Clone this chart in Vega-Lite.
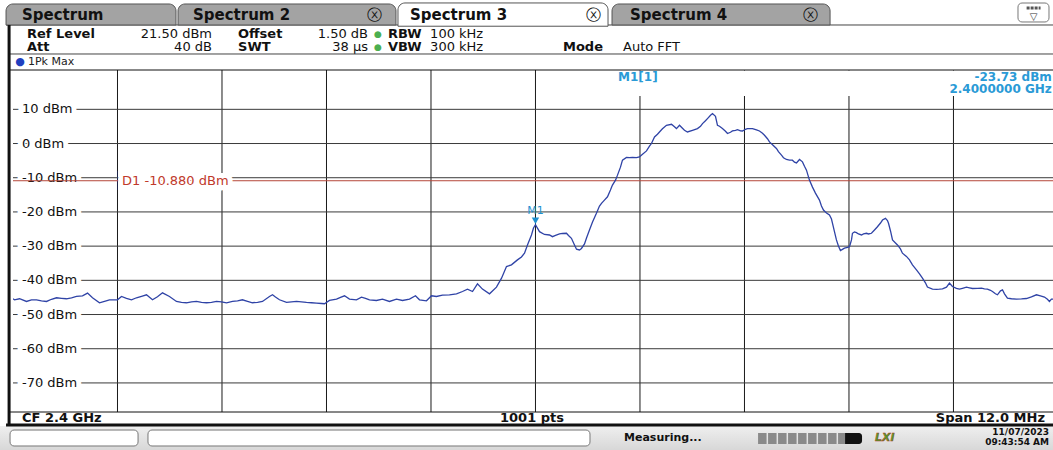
{
  "$schema": "https://vega.github.io/schema/vega-lite/v6.json",
  "width": 1040,
  "height": 342,
  "autosize": {"type": "none"},
  "padding": {"left": 13, "top": 70, "right": 0, "bottom": 38},
  "background": "white",
  "config": {
    "view": {"stroke": null},
    "axis": {"disable": true},
    "text": {"font": "DejaVu Sans"}
  },
  "data": {"values": [{}]},
  "datasets": {
    "levels": [
      {"dBm": 10, "label": "10 dBm"},
      {"dBm": 0, "label": "0 dBm"},
      {"dBm": -10, "label": "-10 dBm"},
      {"dBm": -20, "label": "-20 dBm"},
      {"dBm": -30, "label": "-30 dBm"},
      {"dBm": -40, "label": "-40 dBm"},
      {"dBm": -50, "label": "-50 dBm"},
      {"dBm": -60, "label": "-60 dBm"},
      {"dBm": -70, "label": "-70 dBm"}
    ],
    "vgrid": [
      {"freq": 2395.2}, {"freq": 2396.4}, {"freq": 2397.6}, {"freq": 2398.8}, {"freq": 2400.0},
      {"freq": 2401.2}, {"freq": 2402.4}, {"freq": 2403.6}, {"freq": 2404.8}
    ],
    "trace": [
      {"freq": 2394.000, "dBm": -45.40}, {"freq": 2394.017, "dBm": -45.69}, {"freq": 2394.075, "dBm": -45.39},
      {"freq": 2394.155, "dBm": -46.18}, {"freq": 2394.212, "dBm": -45.69}, {"freq": 2394.270, "dBm": -45.69},
      {"freq": 2394.327, "dBm": -45.98}, {"freq": 2394.385, "dBm": -46.18}, {"freq": 2394.442, "dBm": -45.54},
      {"freq": 2394.500, "dBm": -45.10}, {"freq": 2394.557, "dBm": -45.25}, {"freq": 2394.614, "dBm": -45.39},
      {"freq": 2394.672, "dBm": -45.10}, {"freq": 2394.729, "dBm": -44.72}, {"freq": 2394.798, "dBm": -44.52},
      {"freq": 2394.856, "dBm": -43.73}, {"freq": 2394.913, "dBm": -45.10}, {"freq": 2394.993, "dBm": -46.56},
      {"freq": 2395.051, "dBm": -46.12}, {"freq": 2395.108, "dBm": -45.69}, {"freq": 2395.200, "dBm": -45.69},
      {"freq": 2395.246, "dBm": -44.72}, {"freq": 2395.303, "dBm": -45.25}, {"freq": 2395.361, "dBm": -45.69},
      {"freq": 2395.418, "dBm": -45.10}, {"freq": 2395.476, "dBm": -44.67}, {"freq": 2395.533, "dBm": -44.23},
      {"freq": 2395.602, "dBm": -45.69}, {"freq": 2395.659, "dBm": -44.81}, {"freq": 2395.717, "dBm": -43.65},
      {"freq": 2395.797, "dBm": -44.72}, {"freq": 2395.877, "dBm": -46.18}, {"freq": 2395.935, "dBm": -46.42},
      {"freq": 2395.992, "dBm": -46.56}, {"freq": 2396.050, "dBm": -46.27}, {"freq": 2396.107, "dBm": -46.18},
      {"freq": 2396.165, "dBm": -46.42}, {"freq": 2396.222, "dBm": -46.56}, {"freq": 2396.279, "dBm": -46.42},
      {"freq": 2396.337, "dBm": -46.18}, {"freq": 2396.394, "dBm": -46.27}, {"freq": 2396.452, "dBm": -46.56},
      {"freq": 2396.521, "dBm": -46.18}, {"freq": 2396.578, "dBm": -45.98}, {"freq": 2396.635, "dBm": -45.69},
      {"freq": 2396.693, "dBm": -46.12}, {"freq": 2396.750, "dBm": -46.56}, {"freq": 2396.808, "dBm": -46.42},
      {"freq": 2396.865, "dBm": -46.18}, {"freq": 2396.945, "dBm": -44.72}, {"freq": 2396.980, "dBm": -44.23},
      {"freq": 2397.014, "dBm": -44.90}, {"freq": 2397.060, "dBm": -45.69}, {"freq": 2397.141, "dBm": -46.47},
      {"freq": 2397.198, "dBm": -46.27}, {"freq": 2397.256, "dBm": -46.18}, {"freq": 2397.313, "dBm": -46.27},
      {"freq": 2397.370, "dBm": -46.47}, {"freq": 2397.428, "dBm": -46.56}, {"freq": 2397.485, "dBm": -46.65},
      {"freq": 2397.543, "dBm": -46.77}, {"freq": 2397.577, "dBm": -46.85}, {"freq": 2397.634, "dBm": -45.89},
      {"freq": 2397.715, "dBm": -45.48}, {"freq": 2397.761, "dBm": -44.96}, {"freq": 2397.807, "dBm": -44.52},
      {"freq": 2397.864, "dBm": -45.48}, {"freq": 2397.944, "dBm": -45.69}, {"freq": 2398.002, "dBm": -44.90},
      {"freq": 2398.048, "dBm": -45.25}, {"freq": 2398.094, "dBm": -45.69}, {"freq": 2398.174, "dBm": -45.89},
      {"freq": 2398.243, "dBm": -45.48}, {"freq": 2398.323, "dBm": -46.18}, {"freq": 2398.404, "dBm": -45.48},
      {"freq": 2398.473, "dBm": -45.89}, {"freq": 2398.553, "dBm": -45.48}, {"freq": 2398.622, "dBm": -44.52},
      {"freq": 2398.668, "dBm": -45.69}, {"freq": 2398.748, "dBm": -45.98}, {"freq": 2398.806, "dBm": -44.52},
      {"freq": 2398.863, "dBm": -44.72}, {"freq": 2398.932, "dBm": -44.32}, {"freq": 2399.012, "dBm": -44.23},
      {"freq": 2399.093, "dBm": -43.94}, {"freq": 2399.162, "dBm": -43.27}, {"freq": 2399.219, "dBm": -42.57},
      {"freq": 2399.277, "dBm": -43.27}, {"freq": 2399.334, "dBm": -41.02}, {"freq": 2399.391, "dBm": -42.57},
      {"freq": 2399.472, "dBm": -43.94}, {"freq": 2399.552, "dBm": -41.98}, {"freq": 2399.610, "dBm": -39.36},
      {"freq": 2399.667, "dBm": -35.98}, {"freq": 2399.724, "dBm": -35.48}, {"freq": 2399.793, "dBm": -34.02},
      {"freq": 2399.839, "dBm": -33.15}, {"freq": 2399.874, "dBm": -32.07}, {"freq": 2399.908, "dBm": -29.65},
      {"freq": 2399.954, "dBm": -26.74}, {"freq": 2399.977, "dBm": -24.69}, {"freq": 2400.000, "dBm": -23.73},
      {"freq": 2400.046, "dBm": -25.77}, {"freq": 2400.103, "dBm": -26.59}, {"freq": 2400.161, "dBm": -26.74},
      {"freq": 2400.195, "dBm": -27.23}, {"freq": 2400.230, "dBm": -26.88}, {"freq": 2400.276, "dBm": -26.44},
      {"freq": 2400.310, "dBm": -26.30}, {"freq": 2400.356, "dBm": -26.24}, {"freq": 2400.379, "dBm": -26.88},
      {"freq": 2400.413, "dBm": -27.70}, {"freq": 2400.448, "dBm": -29.65}, {"freq": 2400.471, "dBm": -30.90},
      {"freq": 2400.505, "dBm": -31.11}, {"freq": 2400.528, "dBm": -30.67}, {"freq": 2400.563, "dBm": -29.36},
      {"freq": 2400.586, "dBm": -27.61}, {"freq": 2400.620, "dBm": -25.28}, {"freq": 2400.655, "dBm": -22.95},
      {"freq": 2400.700, "dBm": -20.41}, {"freq": 2400.735, "dBm": -18.28}, {"freq": 2400.758, "dBm": -17.49},
      {"freq": 2400.792, "dBm": -16.53}, {"freq": 2400.827, "dBm": -15.57}, {"freq": 2400.861, "dBm": -13.62},
      {"freq": 2400.884, "dBm": -12.16}, {"freq": 2400.919, "dBm": -10.70}, {"freq": 2400.942, "dBm": -9.24},
      {"freq": 2400.976, "dBm": -6.91}, {"freq": 2400.999, "dBm": -4.87}, {"freq": 2401.045, "dBm": -4.08},
      {"freq": 2401.079, "dBm": -4.14}, {"freq": 2401.114, "dBm": -4.08}, {"freq": 2401.160, "dBm": -4.14},
      {"freq": 2401.194, "dBm": -3.91}, {"freq": 2401.229, "dBm": -3.12}, {"freq": 2401.275, "dBm": -2.16},
      {"freq": 2401.309, "dBm": -0.79}, {"freq": 2401.332, "dBm": 0.00}, {"freq": 2401.367, "dBm": 1.92},
      {"freq": 2401.401, "dBm": 2.71}, {"freq": 2401.424, "dBm": 3.38}, {"freq": 2401.458, "dBm": 4.31},
      {"freq": 2401.504, "dBm": 5.34}, {"freq": 2401.562, "dBm": 5.63}, {"freq": 2401.596, "dBm": 4.90},
      {"freq": 2401.619, "dBm": 4.37}, {"freq": 2401.654, "dBm": 5.34}, {"freq": 2401.688, "dBm": 4.46},
      {"freq": 2401.711, "dBm": 3.88}, {"freq": 2401.745, "dBm": 3.38}, {"freq": 2401.803, "dBm": 3.88},
      {"freq": 2401.860, "dBm": 4.37}, {"freq": 2401.895, "dBm": 5.04}, {"freq": 2401.918, "dBm": 5.83},
      {"freq": 2401.952, "dBm": 6.65}, {"freq": 2401.975, "dBm": 7.29}, {"freq": 2402.010, "dBm": 8.25},
      {"freq": 2402.033, "dBm": 8.75}, {"freq": 2402.067, "dBm": 7.96}, {"freq": 2402.090, "dBm": 5.34},
      {"freq": 2402.113, "dBm": 5.04}, {"freq": 2402.147, "dBm": 4.37}, {"freq": 2402.182, "dBm": 3.59},
      {"freq": 2402.205, "dBm": 2.92}, {"freq": 2402.239, "dBm": 3.29}, {"freq": 2402.262, "dBm": 3.67},
      {"freq": 2402.297, "dBm": 3.88}, {"freq": 2402.320, "dBm": 4.08}, {"freq": 2402.354, "dBm": 3.73},
      {"freq": 2402.377, "dBm": 3.67}, {"freq": 2402.411, "dBm": 4.17}, {"freq": 2402.434, "dBm": 4.37},
      {"freq": 2402.492, "dBm": 4.37}, {"freq": 2402.538, "dBm": 4.02}, {"freq": 2402.572, "dBm": 3.67},
      {"freq": 2402.607, "dBm": 3.00}, {"freq": 2402.630, "dBm": 2.42}, {"freq": 2402.664, "dBm": 1.40},
      {"freq": 2402.687, "dBm": 0.47}, {"freq": 2402.722, "dBm": -0.35}, {"freq": 2402.767, "dBm": -1.46},
      {"freq": 2402.790, "dBm": -2.39}, {"freq": 2402.825, "dBm": -3.41}, {"freq": 2402.848, "dBm": -4.14},
      {"freq": 2402.882, "dBm": -4.66}, {"freq": 2402.917, "dBm": -4.87}, {"freq": 2402.951, "dBm": -4.87},
      {"freq": 2402.974, "dBm": -5.45}, {"freq": 2402.997, "dBm": -5.66}, {"freq": 2403.032, "dBm": -4.66},
      {"freq": 2403.066, "dBm": -5.36}, {"freq": 2403.089, "dBm": -6.62}, {"freq": 2403.112, "dBm": -7.78},
      {"freq": 2403.146, "dBm": -10.70}, {"freq": 2403.181, "dBm": -12.74}, {"freq": 2403.215, "dBm": -14.49},
      {"freq": 2403.261, "dBm": -16.53}, {"freq": 2403.284, "dBm": -18.28}, {"freq": 2403.307, "dBm": -19.45},
      {"freq": 2403.342, "dBm": -20.32}, {"freq": 2403.376, "dBm": -20.90}, {"freq": 2403.399, "dBm": -22.07},
      {"freq": 2403.411, "dBm": -23.32}, {"freq": 2403.434, "dBm": -25.86}, {"freq": 2403.456, "dBm": -28.19},
      {"freq": 2403.479, "dBm": -29.94}, {"freq": 2403.502, "dBm": -31.31}, {"freq": 2403.525, "dBm": -30.96},
      {"freq": 2403.548, "dBm": -30.61}, {"freq": 2403.583, "dBm": -30.38}, {"freq": 2403.606, "dBm": -30.15},
      {"freq": 2403.629, "dBm": -28.19}, {"freq": 2403.640, "dBm": -26.24}, {"freq": 2403.663, "dBm": -25.86},
      {"freq": 2403.686, "dBm": -26.06}, {"freq": 2403.709, "dBm": -26.44}, {"freq": 2403.744, "dBm": -26.74},
      {"freq": 2403.767, "dBm": -26.44}, {"freq": 2403.801, "dBm": -26.24}, {"freq": 2403.824, "dBm": -26.44},
      {"freq": 2403.858, "dBm": -26.24}, {"freq": 2403.893, "dBm": -25.28}, {"freq": 2403.927, "dBm": -24.32},
      {"freq": 2403.962, "dBm": -23.24}, {"freq": 2403.985, "dBm": -22.37}, {"freq": 2404.019, "dBm": -21.87},
      {"freq": 2404.042, "dBm": -22.51}, {"freq": 2404.054, "dBm": -23.32}, {"freq": 2404.077, "dBm": -25.57},
      {"freq": 2404.100, "dBm": -28.19}, {"freq": 2404.134, "dBm": -29.07}, {"freq": 2404.157, "dBm": -29.65},
      {"freq": 2404.191, "dBm": -30.82}, {"freq": 2404.214, "dBm": -32.07}, {"freq": 2404.260, "dBm": -33.00},
      {"freq": 2404.295, "dBm": -34.02}, {"freq": 2404.329, "dBm": -35.48}, {"freq": 2404.375, "dBm": -36.94},
      {"freq": 2404.410, "dBm": -38.11}, {"freq": 2404.444, "dBm": -39.36}, {"freq": 2404.478, "dBm": -40.73},
      {"freq": 2404.501, "dBm": -41.98}, {"freq": 2404.559, "dBm": -42.57}, {"freq": 2404.605, "dBm": -42.63},
      {"freq": 2404.639, "dBm": -42.57}, {"freq": 2404.674, "dBm": -42.48}, {"freq": 2404.720, "dBm": -41.98},
      {"freq": 2404.754, "dBm": -40.82}, {"freq": 2404.788, "dBm": -41.81}, {"freq": 2404.834, "dBm": -42.33},
      {"freq": 2404.869, "dBm": -42.57}, {"freq": 2404.903, "dBm": -42.33}, {"freq": 2404.949, "dBm": -41.98},
      {"freq": 2404.984, "dBm": -42.19}, {"freq": 2405.018, "dBm": -42.39}, {"freq": 2405.076, "dBm": -42.33},
      {"freq": 2405.122, "dBm": -42.28}, {"freq": 2405.156, "dBm": -42.48}, {"freq": 2405.190, "dBm": -42.57},
      {"freq": 2405.225, "dBm": -42.92}, {"freq": 2405.248, "dBm": -43.27}, {"freq": 2405.282, "dBm": -43.94},
      {"freq": 2405.305, "dBm": -44.23}, {"freq": 2405.340, "dBm": -43.06}, {"freq": 2405.363, "dBm": -42.77},
      {"freq": 2405.386, "dBm": -43.94}, {"freq": 2405.420, "dBm": -45.19}, {"freq": 2405.466, "dBm": -45.39},
      {"freq": 2405.523, "dBm": -45.48}, {"freq": 2405.581, "dBm": -45.45}, {"freq": 2405.638, "dBm": -45.31},
      {"freq": 2405.695, "dBm": -44.81}, {"freq": 2405.753, "dBm": -44.23}, {"freq": 2405.799, "dBm": -44.52},
      {"freq": 2405.845, "dBm": -44.90}, {"freq": 2405.879, "dBm": -45.54}, {"freq": 2405.902, "dBm": -46.18},
      {"freq": 2405.925, "dBm": -45.48}, {"freq": 2406.000, "dBm": -45.50}
    ]
  },
  "layer": [
    {
      "mark": {"type": "rect", "fill": {"gradient": "linear", "x1": 0, "y1": 0, "x2": 0, "y2": 1, "stops": [{"offset": 0, "color": "#efefef"}, {"offset": 1, "color": "#c2c2c2"}]}},
      "encoding": {
        "x": {"datum": 2393.8, "type": "quantitative"}, "x2": {"datum": 2406.2},
        "y": {"datum": -82.6, "type": "quantitative"}, "y2": {"datum": -96}
      }
    },
    {
      "mark": {"type": "rect", "fill": "white", "stroke": "#777", "strokeWidth": 1, "cornerRadius": 4},
      "encoding": {
        "x": {"datum": 2393.966, "type": "quantitative"}, "x2": {"datum": 2395.436},
        "y": {"datum": -83.77, "type": "quantitative"}, "y2": {"datum": -88.44}
      }
    },
    {
      "mark": {"type": "rect", "fill": "white", "stroke": "#777", "strokeWidth": 1, "cornerRadius": 4},
      "encoding": {
        "x": {"datum": 2395.55, "type": "quantitative"}, "x2": {"datum": 2400.626},
        "y": {"datum": -83.77, "type": "quantitative"}, "y2": {"datum": -88.44}
      }
    },
    {
      "mark": {"type": "rule", "color": "#444", "strokeWidth": 1},
      "encoding": {
        "x": {"datum": 2393.92, "type": "quantitative"}, "x2": {"datum": 2406.2},
        "y": {"datum": 34.66, "type": "quantitative"}
      }
    },
    {
      "mark": {"type": "rect", "fill": "#a3a3a3", "stroke": "#555", "strokeWidth": 1, "cornerRadiusTopLeft": 7, "cornerRadiusTopRight": 7},
      "encoding": {
        "x": {"datum": 2393.92, "type": "quantitative"}, "x2": {"datum": 2395.872},
        "y": {"datum": 34.66, "type": "quantitative"}, "y2": {"datum": 40.8}
      }
    },
    {
      "mark": {"type": "rect", "fill": "#a3a3a3", "stroke": "#555", "strokeWidth": 1, "cornerRadiusTopLeft": 7, "cornerRadiusTopRight": 7},
      "encoding": {
        "x": {"datum": 2395.895, "type": "quantitative"}, "x2": {"datum": 2398.398},
        "y": {"datum": 34.66, "type": "quantitative"}, "y2": {"datum": 40.8}
      }
    },
    {
      "mark": {"type": "rect", "fill": "white", "stroke": "#555", "strokeWidth": 1, "cornerRadiusTopLeft": 7, "cornerRadiusTopRight": 7},
      "encoding": {
        "x": {"datum": 2398.421, "type": "quantitative"}, "x2": {"datum": 2400.833},
        "y": {"datum": 34.3, "type": "quantitative"}, "y2": {"datum": 41.1}
      }
    },
    {
      "mark": {"type": "rect", "fill": "#a3a3a3", "stroke": "#555", "strokeWidth": 1, "cornerRadiusTopLeft": 7, "cornerRadiusTopRight": 7},
      "encoding": {
        "x": {"datum": 2400.879, "type": "quantitative"}, "x2": {"datum": 2403.383},
        "y": {"datum": 34.66, "type": "quantitative"}, "y2": {"datum": 40.8}
      }
    },
    {
      "mark": {"type": "rect", "fill": "white", "stroke": "#777", "strokeWidth": 1, "cornerRadius": 4},
      "encoding": {
        "x": {"datum": 2405.541, "type": "quantitative"}, "x2": {"datum": 2405.897},
        "y": {"datum": 35.54, "type": "quantitative"}, "y2": {"datum": 41.09}
      }
    },
    {
      "mark": {"type": "rule", "color": "#555", "strokeWidth": 3, "strokeDash": [3, 1]},
      "encoding": {
        "x": {"datum": 2405.64, "type": "quantitative"}, "x2": {"datum": 2405.8},
        "y": {"datum": 39.6, "type": "quantitative"}
      }
    },
    {
      "mark": {"type": "text", "text": "▽", "fontSize": 10, "align": "center", "baseline": "middle", "color": "#333"},
      "encoding": {"x": {"datum": 2405.719, "type": "quantitative"}, "y": {"datum": 37.0, "type": "quantitative"}}
    },
    {
      "mark": {"type": "text", "text": "Spectrum", "fontSize": 15, "fontWeight": "bold", "align": "left", "baseline": "middle", "color": "#111"},
      "encoding": {"x": {"datum": 2394.103, "type": "quantitative"}, "y": {"datum": 37.58, "type": "quantitative"}}
    },
    {
      "mark": {"type": "text", "text": "Spectrum 2", "fontSize": 15, "fontWeight": "bold", "align": "left", "baseline": "middle", "color": "#111"},
      "encoding": {"x": {"datum": 2396.067, "type": "quantitative"}, "y": {"datum": 37.58, "type": "quantitative"}}
    },
    {
      "mark": {"type": "text", "text": "Spectrum 3", "fontSize": 15, "fontWeight": "bold", "align": "left", "baseline": "middle", "color": "#111"},
      "encoding": {"x": {"datum": 2398.559, "type": "quantitative"}, "y": {"datum": 37.58, "type": "quantitative"}}
    },
    {
      "mark": {"type": "text", "text": "Spectrum 4", "fontSize": 15, "fontWeight": "bold", "align": "left", "baseline": "middle", "color": "#111"},
      "encoding": {"x": {"datum": 2401.086, "type": "quantitative"}, "y": {"datum": 37.58, "type": "quantitative"}}
    },
    {
      "mark": {"type": "text", "text": "ⓧ", "fontSize": 15, "align": "center", "baseline": "middle", "color": "#111"},
      "encoding": {"x": {"datum": 2398.157, "type": "quantitative"}, "y": {"datum": 37.58, "type": "quantitative"}}
    },
    {
      "mark": {"type": "text", "text": "ⓧ", "fontSize": 15, "align": "center", "baseline": "middle", "color": "#111"},
      "encoding": {"x": {"datum": 2400.672, "type": "quantitative"}, "y": {"datum": 37.58, "type": "quantitative"}}
    },
    {
      "mark": {"type": "text", "text": "ⓧ", "fontSize": 15, "align": "center", "baseline": "middle", "color": "#111"},
      "encoding": {"x": {"datum": 2403.153, "type": "quantitative"}, "y": {"datum": 37.58, "type": "quantitative"}}
    },
    {
      "mark": {"type": "text", "text": ["Ref Level", "Att"], "fontSize": 13, "fontWeight": "bold", "lineHeight": 13.5, "align": "left", "baseline": "middle", "color": "#111"},
      "encoding": {"x": {"datum": 2394.161, "type": "quantitative"}, "y": {"datum": 32.03, "type": "quantitative"}}
    },
    {
      "mark": {"type": "text", "text": ["21.50 dBm", "40 dB"], "fontSize": 13, "lineHeight": 13.5, "align": "right", "baseline": "middle", "color": "#111"},
      "encoding": {"x": {"datum": 2396.285, "type": "quantitative"}, "y": {"datum": 32.03, "type": "quantitative"}}
    },
    {
      "mark": {"type": "text", "text": ["Offset", "SWT"], "fontSize": 13, "fontWeight": "bold", "lineHeight": 13.5, "align": "left", "baseline": "middle", "color": "#111"},
      "encoding": {"x": {"datum": 2396.584, "type": "quantitative"}, "y": {"datum": 32.03, "type": "quantitative"}}
    },
    {
      "mark": {"type": "text", "text": ["1.50 dB", "38 µs"], "fontSize": 13, "lineHeight": 13.5, "align": "right", "baseline": "middle", "color": "#111"},
      "encoding": {"x": {"datum": 2398.077, "type": "quantitative"}, "y": {"datum": 32.03, "type": "quantitative"}}
    },
    {
      "mark": {"type": "text", "text": ["●", "●"], "fontSize": 9, "lineHeight": 13.5, "align": "center", "baseline": "middle", "color": "#4caf50"},
      "encoding": {"x": {"datum": 2398.192, "type": "quantitative"}, "y": {"datum": 32.03, "type": "quantitative"}}
    },
    {
      "mark": {"type": "text", "text": ["RBW", "VBW"], "fontSize": 13, "fontWeight": "bold", "lineHeight": 13.5, "align": "left", "baseline": "middle", "color": "#111"},
      "encoding": {"x": {"datum": 2398.307, "type": "quantitative"}, "y": {"datum": 32.03, "type": "quantitative"}}
    },
    {
      "mark": {"type": "text", "text": ["100 kHz", "300 kHz"], "fontSize": 13, "lineHeight": 13.5, "align": "left", "baseline": "middle", "color": "#111"},
      "encoding": {"x": {"datum": 2398.79, "type": "quantitative"}, "y": {"datum": 32.03, "type": "quantitative"}}
    },
    {
      "mark": {"type": "text", "text": "Mode", "fontSize": 13, "fontWeight": "bold", "align": "left", "baseline": "middle", "color": "#111"},
      "encoding": {"x": {"datum": 2400.316, "type": "quantitative"}, "y": {"datum": 28.08, "type": "quantitative"}}
    },
    {
      "mark": {"type": "text", "text": "Auto FFT", "fontSize": 13, "align": "left", "baseline": "middle", "color": "#111"},
      "encoding": {"x": {"datum": 2401.005, "type": "quantitative"}, "y": {"datum": 28.08, "type": "quantitative"}}
    },
    {
      "mark": {"type": "rule", "color": "#444", "strokeWidth": 1},
      "encoding": {
        "x": {"datum": 2393.966, "type": "quantitative"}, "x2": {"datum": 2406.2},
        "y": {"datum": 26.18, "type": "quantitative"}
      }
    },
    {
      "mark": {"type": "text", "text": "●", "fontSize": 11, "align": "center", "baseline": "middle", "color": "#1f3fbf"},
      "encoding": {"x": {"datum": 2394.08, "type": "quantitative"}, "y": {"datum": 23.84, "type": "quantitative"}}
    },
    {
      "mark": {"type": "text", "text": "1Pk Max", "fontSize": 11, "align": "left", "baseline": "middle", "color": "#222"},
      "encoding": {"x": {"datum": 2394.172, "type": "quantitative"}, "y": {"datum": 23.84, "type": "quantitative"}}
    },
    {
      "data": {"name": "vgrid"},
      "mark": {"type": "rule", "color": "#1a1a1a", "strokeWidth": 1},
      "encoding": {"x": {"field": "freq", "type": "quantitative"}}
    },
    {
      "data": {"name": "levels"},
      "mark": {"type": "rule", "color": "#3a3a3a", "strokeWidth": 1},
      "encoding": {"y": {"field": "dBm", "type": "quantitative"}}
    },
    {
      "mark": {"type": "rect", "fill": "white"},
      "encoding": {
        "x": {"datum": 2400.041, "type": "quantitative"}, "x2": {"datum": 2406.2},
        "y": {"datum": 21.35, "type": "quantitative"}, "y2": {"datum": 13.9}
      }
    },
    {
      "data": {"name": "levels"},
      "mark": {"type": "text", "fontSize": 13, "align": "left", "baseline": "middle", "fill": "white", "stroke": "white", "strokeWidth": 10},
      "encoding": {
        "x": {"datum": 2394.103, "type": "quantitative"},
        "y": {"field": "dBm", "type": "quantitative"},
        "text": {"field": "label"}
      }
    },
    {
      "data": {"name": "levels"},
      "mark": {"type": "text", "fontSize": 13, "align": "left", "baseline": "middle", "color": "#111"},
      "encoding": {
        "x": {"datum": 2394.103, "type": "quantitative"},
        "y": {"field": "dBm", "type": "quantitative"},
        "text": {"field": "label"}
      }
    },
    {
      "mark": {"type": "rule", "color": "#b5473a", "strokeWidth": 1},
      "encoding": {"y": {"datum": -10.88, "type": "quantitative"}}
    },
    {
      "mark": {"type": "text", "text": "D1  -10.880 dBm", "fontSize": 13, "align": "left", "baseline": "middle", "fill": "white", "stroke": "white", "strokeWidth": 10},
      "encoding": {"x": {"datum": 2395.252, "type": "quantitative"}, "y": {"datum": -10.88, "type": "quantitative"}}
    },
    {
      "mark": {"type": "text", "text": "D1  -10.880 dBm", "fontSize": 13, "align": "left", "baseline": "middle", "color": "#c0392b"},
      "encoding": {"x": {"datum": 2395.252, "type": "quantitative"}, "y": {"datum": -10.88, "type": "quantitative"}}
    },
    {
      "data": {"name": "trace"},
      "mark": {"type": "line", "color": "#2f43a6", "strokeWidth": 1.3, "clip": true},
      "encoding": {
        "x": {"field": "freq", "type": "quantitative", "scale": {"domain": [2394, 2405.943], "nice": false, "zero": false}},
        "y": {"field": "dBm", "type": "quantitative", "scale": {"domain": [-78.5, 21.5], "nice": false, "zero": false}}
      }
    },
    {
      "mark": {"type": "point", "shape": "triangle-down", "filled": true, "size": 55, "color": "#1e90d0", "opacity": 1, "yOffset": -4},
      "encoding": {"x": {"datum": 2400.0, "type": "quantitative"}, "y": {"datum": -23.73, "type": "quantitative"}}
    },
    {
      "mark": {"type": "text", "text": "M1", "fontSize": 11, "align": "center", "baseline": "middle", "color": "#1e90d0", "dy": -14},
      "encoding": {"x": {"datum": 2400.0, "type": "quantitative"}, "y": {"datum": -23.73, "type": "quantitative"}}
    },
    {
      "mark": {"type": "text", "text": "M1[1]", "fontSize": 12, "fontWeight": "bold", "align": "left", "baseline": "middle", "color": "#2a9ad6"},
      "encoding": {"x": {"datum": 2400.948, "type": "quantitative"}, "y": {"datum": 19.45, "type": "quantitative"}}
    },
    {
      "mark": {"type": "text", "text": "-23.73 dBm", "fontSize": 12, "fontWeight": "bold", "align": "right", "baseline": "middle", "color": "#2a9ad6"},
      "encoding": {"x": {"datum": 2405.93, "type": "quantitative"}, "y": {"datum": 19.45, "type": "quantitative"}}
    },
    {
      "mark": {"type": "text", "text": "2.4000000 GHz", "fontSize": 12, "fontWeight": "bold", "align": "right", "baseline": "middle", "color": "#2a9ad6"},
      "encoding": {"x": {"datum": 2405.93, "type": "quantitative"}, "y": {"datum": 15.94, "type": "quantitative"}}
    },
    {
      "mark": {"type": "rule", "color": "#111", "strokeWidth": 1},
      "encoding": {
        "x": {"datum": 2393.966, "type": "quantitative"}, "x2": {"datum": 2406.2},
        "y": {"datum": 21.5, "type": "quantitative"}
      }
    },
    {
      "mark": {"type": "rule", "color": "#111", "strokeWidth": 1},
      "encoding": {
        "x": {"datum": 2393.966, "type": "quantitative"}, "x2": {"datum": 2406.2},
        "y": {"datum": -78.5, "type": "quantitative"}
      }
    },
    {
      "mark": {"type": "rule", "color": "#111", "strokeWidth": 3},
      "encoding": {
        "x": {"datum": 2393.92, "type": "quantitative"}, "x2": {"datum": 2406.2},
        "y": {"datum": -82.3, "type": "quantitative"}
      }
    },
    {
      "mark": {"type": "rule", "color": "#111", "strokeWidth": 3},
      "encoding": {
        "x": {"datum": 2393.955, "type": "quantitative"},
        "y": {"datum": 34.66, "type": "quantitative"}, "y2": {"datum": -82.3}
      }
    },
    {
      "mark": {"type": "text", "text": "CF 2.4 GHz", "fontSize": 13, "fontWeight": "bold", "align": "left", "baseline": "middle", "color": "#111"},
      "encoding": {"x": {"datum": 2394.103, "type": "quantitative"}, "y": {"datum": -80.11, "type": "quantitative"}}
    },
    {
      "mark": {"type": "text", "text": "1001 pts", "fontSize": 13, "fontWeight": "bold", "align": "center", "baseline": "middle", "color": "#111"},
      "encoding": {"x": {"datum": 2399.96, "type": "quantitative"}, "y": {"datum": -80.11, "type": "quantitative"}}
    },
    {
      "mark": {"type": "text", "text": "Span 12.0 MHz", "fontSize": 13, "fontWeight": "bold", "align": "right", "baseline": "middle", "color": "#111"},
      "encoding": {"x": {"datum": 2405.851, "type": "quantitative"}, "y": {"datum": -80.11, "type": "quantitative"}}
    },
    {
      "mark": {"type": "text", "text": "Measuring...", "fontSize": 11, "fontWeight": "bold", "align": "left", "baseline": "middle", "color": "#111"},
      "encoding": {"x": {"datum": 2401.017, "type": "quantitative"}, "y": {"datum": -86.1, "type": "quantitative"}}
    },
    {
      "mark": {"type": "rule", "color": "#8a8a8a", "strokeWidth": 11, "strokeDash": [8.5, 1.5]},
      "encoding": {
        "x": {"datum": 2402.556, "type": "quantitative"}, "x2": {"datum": 2403.555},
        "y": {"datum": -86.25, "type": "quantitative"}
      }
    },
    {
      "mark": {"type": "rect", "fill": "#111", "cornerRadiusTopRight": 3, "cornerRadiusBottomRight": 3},
      "encoding": {
        "x": {"datum": 2403.555, "type": "quantitative"}, "x2": {"datum": 2403.75},
        "y": {"datum": -84.64, "type": "quantitative"}, "y2": {"datum": -87.86}
      }
    },
    {
      "mark": {"type": "text", "text": "LXI", "fontSize": 11, "fontWeight": "bold", "fontStyle": "italic", "align": "left", "baseline": "middle", "color": "#4e9a2a", "stroke": "#b03020", "strokeWidth": 0.4},
      "encoding": {"x": {"datum": 2403.899, "type": "quantitative"}, "y": {"datum": -86.1, "type": "quantitative"}}
    },
    {
      "mark": {"type": "text", "text": ["11/07/2023", "09:43:54 AM"], "fontSize": 9, "fontWeight": "bold", "lineHeight": 10, "align": "right", "baseline": "middle", "color": "#111"},
      "encoding": {"x": {"datum": 2405.897, "type": "quantitative"}, "y": {"datum": -84.35, "type": "quantitative"}}
    }
  ]
}
